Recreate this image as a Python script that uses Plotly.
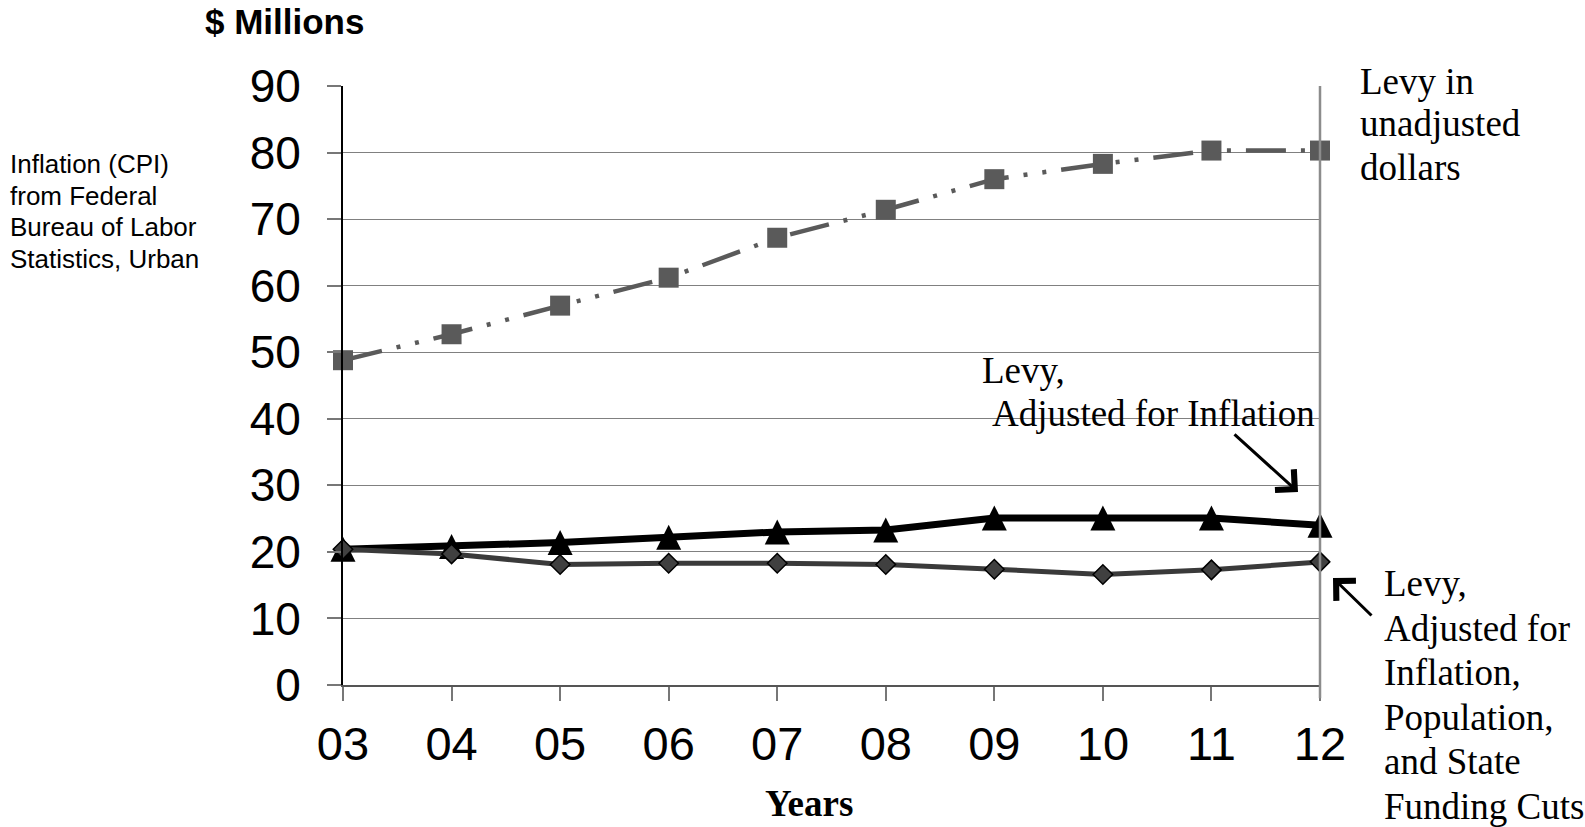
import plotly.graph_objects as go

years = ["03", "04", "05", "06", "07", "08", "09", "10", "11", "12"]
levy_unadjusted = [48.8, 52.7, 57.0, 61.2, 67.2, 71.4, 76.0, 78.3, 80.3, 80.3]
levy_inflation = [20.4, 20.8, 21.4, 22.2, 23.0, 23.3, 25.1, 25.1, 25.1, 24.0]
levy_inf_pop_state = [20.4, 19.7, 18.1, 18.3, 18.3, 18.1, 17.4, 16.6, 17.3, 18.5]

y_ticks = [0, 10, 20, 30, 40, 50, 60, 70, 80, 90]

W, H = 1585, 827
L, R, T, B = 343, 1320, 86, 685

ARIAL = "Arial, Liberation Sans, sans-serif"
TIMES = "Times New Roman, Liberation Serif, serif"


def px(X):
    return (X - L) / (R - L)


def py(Y):
    return (B - Y) / (B - T)


fig = go.Figure()

fig.add_trace(go.Scatter(
    x=years, y=levy_inflation, mode="lines+markers", cliponaxis=False,
    line=dict(color="#000000", width=7),
    marker=dict(symbol="arrow-down", angle=180, standoff=12.5, size=25,
                color="#000000", line=dict(width=0)),
    name="Levy, Adjusted for Inflation"))

fig.add_trace(go.Scatter(
    x=years, y=levy_inf_pop_state, mode="lines+markers", cliponaxis=False,
    line=dict(color="#3a3a3a", width=5),
    marker=dict(symbol="diamond", size=15, color="#404040",
                line=dict(color="#000000", width=1.5)),
    name="Levy, Adjusted for Inflation, Population, and State Funding Cuts"))

fig.add_trace(go.Scatter(
    x=years, y=levy_unadjusted, mode="lines+markers", cliponaxis=False,
    line=dict(color="#5a5a5a", width=4.5, dash="40px,15px,4px,15px,4px,15px"),
    marker=dict(symbol="square", size=20, color="#5a5a5a", line=dict(width=0)),
    name="Levy in unadjusted dollars"))

anns = []


def text_line(s, X, Ycenter, size, family, anchor="left", bold=False):
    anns.append(dict(
        text=("<b>%s</b>" % s) if bold else s,
        x=px(X), y=py(Ycenter), xref="paper", yref="paper",
        xanchor=anchor, yanchor="middle", showarrow=False,
        font=dict(size=size, family=family, color="#000000")))


text_line("$ Millions", 284, 22, 35, ARIAL, anchor="center", bold=True)
for i, s in enumerate(["Inflation (CPI)", "from Federal", "Bureau of Labor", "Statistics, Urban"]):
    text_line(s, 8, [164, 195.5, 227, 259][i], 26, ARIAL)
for i, s in enumerate(["Levy in", "unadjusted", "dollars"]):
    text_line(s, 1358, [81, 124, 167][i], 37, TIMES)
text_line("Levy,", 980, 370, 37, TIMES)
text_line("Adjusted for Inflation", 990, 413, 37, TIMES)
for i, s in enumerate(["Levy,", "Adjusted for", "Inflation,", "Population,", "and State", "Funding Cuts"]):
    text_line(s, 1382, [583, 628, 672, 717, 761, 806][i], 37, TIMES)
text_line("Years", 809, 803, 37, TIMES, anchor="center", bold=True)

# arrows
anns.append(dict(text="", x=px(1298), y=py(492), xref="paper", yref="paper",
                 ax=-65, ay=-59, showarrow=True, arrowhead=4, arrowsize=1.8,
                 arrowwidth=3, arrowcolor="#000000", standoff=0))
anns.append(dict(text="", x=px(1333), y=py(578), xref="paper", yref="paper",
                 ax=40, ay=39, showarrow=True, arrowhead=4, arrowsize=1.8,
                 arrowwidth=3, arrowcolor="#000000", standoff=0))

fig.update_layout(
    width=W, height=H,
    margin=dict(l=L, r=W - R, t=T, b=H - B, pad=0),
    paper_bgcolor="#ffffff", plot_bgcolor="#ffffff",
    showlegend=False,
    annotations=anns,
    shapes=[dict(type="line", xref="paper", yref="paper", x0=1, x1=1, y0=-0.022, y1=1,
                 line=dict(color="#8c8c8c", width=2.5))],
    xaxis=dict(type="category", categoryorder="array", categoryarray=years,
               range=[0, 9], showgrid=False, zeroline=False,
               showline=True, linecolor="#555555", linewidth=2,
               ticks="outside", ticklen=14, tickcolor="#777777", tickwidth=1.5,
               ticklabelstandoff=3,
               tickfont=dict(size=47, family=ARIAL, color="#000000")),
    yaxis=dict(range=[0, 90], tickmode="array", tickvals=y_ticks,
               ticktext=[str(v) for v in y_ticks],
               showgrid=True, gridcolor="#808080", gridwidth=1, zeroline=False,
               showline=True, linecolor="#000000", linewidth=2,
               ticks="outside", ticklen=14, tickcolor="#777777", tickwidth=1.5,
               ticklabelstandoff=17,
               tickfont=dict(size=46, family=ARIAL, color="#000000")),
)

fig.write_html(
    "out.html",
    config={"displayModeBar": False},
    post_script="document.body.style.margin='0';document.body.style.overflow='hidden';",
)
